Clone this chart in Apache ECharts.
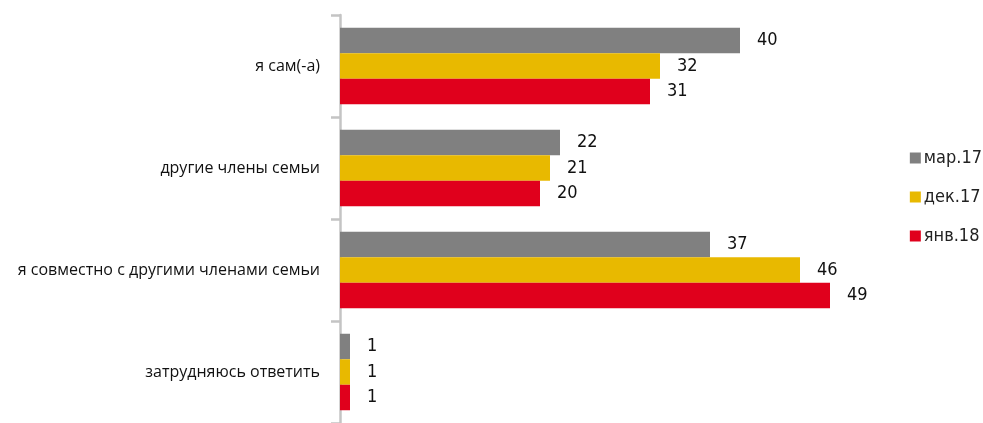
<!DOCTYPE html>
<html>
<head>
<meta charset="utf-8">
<script src="https://cdn.jsdelivr.net/npm/echarts@6/dist/echarts.min.js"></script>
<style>
  html, body { margin: 0; padding: 0; background: #fff; }
  #chart { width: 983px; height: 423px; }
</style>
</head>
<body>
<div id="chart"></div>
<script>
// categories (top to bottom)
const categories = ['я сам(-а)', 'другие члены семьи', 'я совместно с другими членами семьи', 'затрудняюсь ответить'];
const seriesNames = ['мар.17', 'дек.17', 'янв.18'];
const mar17 = [40, 22, 37, 1];
const dec17 = [32, 21, 46, 1];
const jan18 = [31, 20, 49, 1];
const colors = ['#808080', '#e8b900', '#e0001c'];

const chart = echarts.init(document.getElementById('chart'));

const numFont = "'DejaVu Sans Condensed', 'Liberation Sans Narrow', sans-serif";

function makeSeries(name, data, color) {
  return {
    name: name,
    type: 'bar',
    data: data,
    barGap: '0%',
    barCategoryGap: '25%',
    itemStyle: { color: color },
    label: {
      show: true,
      position: 'right',
      distance: 17,
      color: '#111',
      fontSize: 18,
      fontFamily: numFont
    }
  };
}

const option = {
  animation: false,
  color: colors,
  legend: {
    orient: 'vertical',
    right: 1,
    top: 149,
    padding: 0,
    itemWidth: 11,
    itemHeight: 11,
    itemGap: 21,
    icon: 'rect',
    textStyle: { fontSize: 18, fontFamily: numFont, color: '#222', padding: [0, 0, 0, -2] },
    data: seriesNames
  },
  grid: {
    left: 340,
    top: 15,
    width: 600,
    height: 413
  },
  xAxis: {
    type: 'value',
    min: 0,
    max: 60,
    show: false
  },
  yAxis: {
    type: 'category',
    inverse: true,
    data: categories,
    axisLine: { show: true, lineStyle: { color: '#c4c4c4', width: 2.5 } },
    axisTick: { show: true, length: 9, lineStyle: { color: '#c4c4c4', width: 2.5 } },
    axisLabel: {
      margin: 20,
      fontSize: 16,
      color: '#111',
      fontFamily: "'Open Sans', 'Noto Sans', sans-serif"
    }
  },
  series: [
    makeSeries(seriesNames[0], mar17, colors[0]),
    makeSeries(seriesNames[1], dec17, colors[1]),
    makeSeries(seriesNames[2], jan18, colors[2])
  ]
};

chart.setOption(option);
</script>
</body>
</html>
